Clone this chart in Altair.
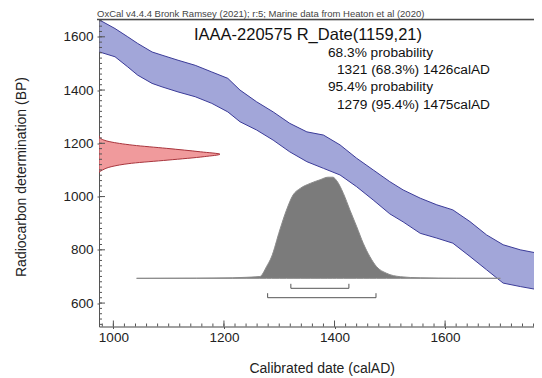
import altair as alt
import pandas as pd

# ---------------- data ----------------
header_text = "OxCal v4.4.4 Bronk Ramsey (2021); r:5; Marine data from Heaton et al (2020)"
title_text = "IAAA-220575 R_Date(1159,21)"
prob_lines = ["68.3% probability", "1321 (68.3%) 1426calAD",
              "95.4% probability", "1279 (95.4%) 1475calAD"]

# calibration curve band (calAD, upper BP, lower BP)
band_year = [975, 1003, 1026, 1044, 1070, 1088, 1117, 1148, 1178, 1207, 1229, 1259,
             1289, 1319, 1350, 1380, 1410, 1440, 1470, 1500, 1524, 1555, 1585, 1614,
             1645, 1675, 1705, 1736, 1768]
band_upper = [1663, 1631, 1600, 1575, 1543, 1531, 1512, 1493, 1468, 1444, 1400, 1356,
              1318, 1275, 1243, 1231, 1194, 1144, 1100, 1056, 1025, 994, 969, 950,
              906, 856, 819, 800, 787]
band_lower = [1543, 1525, 1487, 1456, 1425, 1412, 1393, 1375, 1350, 1318, 1281, 1250,
              1212, 1168, 1131, 1106, 1081, 1037, 987, 935, 905, 862, 844, 825,
              775, 725, 675, 662, 650]

# radiocarbon date distribution (BP, relative density)
r_bp = [1228, 1219, 1206, 1193, 1181, 1168, 1159, 1150, 1137, 1125, 1112, 1100, 1091]
r_p = [0.0, 0.012, 0.09, 0.28, 0.56, 0.84, 1.0, 0.87, 0.57, 0.27, 0.1, 0.03, 0.0]

# calibrated distribution (calAD, relative density)
c_year = [1042, 1150, 1216, 1240, 1265, 1277, 1286, 1301, 1313, 1325, 1338, 1356,
          1374, 1388, 1397, 1404, 1416, 1428, 1440, 1452, 1464, 1476, 1494, 1519,
          1555, 1620, 1700]
c_p = [0.0, 0.002, 0.005, 0.01, 0.018, 0.115, 0.21, 0.475, 0.67, 0.82, 0.885, 0.934,
       0.97, 0.995, 0.995, 0.96, 0.836, 0.67, 0.51, 0.344, 0.213, 0.115, 0.05, 0.016,
       0.005, 0.001, 0.0]

# highest probability ranges
r68 = [1321, 1426]
r95 = [1279, 1475]

x_ticks = [1000, 1200, 1400, 1600]
y_ticks = [600, 800, 1000, 1200, 1400, 1600]
x_minor = list(range(980, 1761, 20))
y_minor = list(range(520, 1661, 20))

# ---------------- layout ----------------
W, H = 435, 307
FONT = "Liberation Sans"
XDOM = [974, 1760.8]
YDOM = [512, 1665]

band_df = pd.DataFrame({"year": band_year, "upper": band_upper, "lower": band_lower})
red_df = pd.DataFrame({"bp": r_bp, "p": r_p})
cal_df = pd.DataFrame({"year": c_year, "p": c_p})
one = pd.DataFrame({"k": [0]})


def xs():
    return alt.Scale(domain=XDOM, nice=False, zero=False)


def ys():
    return alt.Scale(domain=YDOM, nice=False, zero=False)


band = alt.Chart(band_df).mark_area(color="#a2a6d9", opacity=1, clip=True).encode(
    x=alt.X("year:Q", scale=xs(),
            axis=alt.Axis(values=x_ticks, format="d", tickSize=2, tickColor="#555",
                          domainColor="#555", labelFontSize=13.5, labelFont=FONT,
                          labelColor="#222", labelPadding=2, grid=False,
                          title="Calibrated date (calAD)", titleFont=FONT,
                          titleFontSize=14, titleFontWeight="normal", titleColor="#222",
                          titleX=222.7, titleY=41.6, titleAlign="center",
                          titleBaseline="middle")),
    y=alt.Y("upper:Q", scale=ys(),
            axis=alt.Axis(values=y_ticks, format="d", tickSize=2, tickColor="#555",
                          domainColor="#555", labelFontSize=13.5, labelFont=FONT,
                          labelColor="#222", labelPadding=4, grid=False,
                          title="Radiocarbon determination (BP)", titleFont=FONT,
                          titleFontSize=14, titleFontWeight="normal", titleColor="#222",
                          titleX=-78, titleY=157, titleAlign="center",
                          titleBaseline="middle", titleAngle=-90)),
    y2="lower:Q",
)

edge_up = alt.Chart(band_df).mark_line(color="#3b3b98", strokeWidth=1, clip=True).encode(
    x=alt.X("year:Q", scale=xs(), axis=None),
    y=alt.Y("upper:Q", scale=ys(), axis=None),
)
edge_lo = alt.Chart(band_df).mark_line(color="#3b3b98", strokeWidth=1, clip=True).encode(
    x=alt.X("year:Q", scale=xs(), axis=None),
    y=alt.Y("lower:Q", scale=ys(), axis=None),
)

red = alt.Chart(red_df).mark_area(
    orient="horizontal", color="#f09a9c", stroke="#a8343c", strokeWidth=1,
    interpolate="monotone", clip=True
).encode(
    y=alt.Y("bp:Q", scale=ys(), axis=None),
    x=alt.X("p:Q", scale=alt.Scale(domain=[0, 3.595], nice=False, zero=False), axis=None),
)

cal = alt.Chart(cal_df).mark_area(
    color="#7b7b7b", stroke="#8a8a8a", strokeWidth=1, interpolate="monotone", clip=True
).encode(
    x=alt.X("year:Q", scale=xs(), axis=None),
    y=alt.Y("p:Q", scale=alt.Scale(domain=[-0.474, 2.547], nice=False, zero=False),
            axis=None),
)


def bracket(rng, py):
    d = pd.DataFrame({"start": [rng[0]], "end": [rng[1]]})
    h = alt.Chart(d).mark_rule(color="#555", strokeWidth=1).encode(
        x=alt.X("start:Q", scale=xs(), axis=None), x2="end:Q",
        y=alt.value(py))
    e = alt.Chart(d).transform_fold(["start", "end"], as_=["side", "yr"]).mark_rule(
        color="#555", strokeWidth=1).encode(
        x=alt.X("yr:Q", scale=xs(), axis=None), y=alt.value(py), y2=alt.value(py - 4.5))
    return [h, e]


# inward ticks
xminor = alt.Chart(pd.DataFrame({"t": x_minor})).mark_rule(color="#555").encode(
    x=alt.X("t:Q", scale=xs(), axis=None), y=alt.value(H), y2=alt.value(H - 3))
xmajor = alt.Chart(pd.DataFrame({"t": x_ticks})).mark_rule(color="#555").encode(
    x=alt.X("t:Q", scale=xs(), axis=None), y=alt.value(H), y2=alt.value(H - 6))
yminor = alt.Chart(pd.DataFrame({"t": y_minor})).mark_rule(color="#555").encode(
    y=alt.Y("t:Q", scale=ys(), axis=None), x=alt.value(0), x2=alt.value(3))
ymajor = alt.Chart(pd.DataFrame({"t": y_ticks})).mark_rule(color="#555").encode(
    y=alt.Y("t:Q", scale=ys(), axis=None), x=alt.value(0), x2=alt.value(6))

top_line = alt.Chart(one).mark_rule(color="#4a4a4a", strokeWidth=1.6).encode(
    x=alt.value(-2), x2=alt.value(W), y=alt.value(0))

header = alt.Chart(one).mark_text(
    text=header_text, font=FONT, fontSize=9.5, color="#444", align="left",
    baseline="alphabetic").encode(x=alt.value(-2), y=alt.value(-2.5))
title = alt.Chart(one).mark_text(
    text=title_text, font=FONT, fontSize=16.5, color="#111", align="center",
    baseline="alphabetic").encode(x=alt.value(209), y=alt.value(20.5))

text_layers = []
text_x = [229, 238, 229, 238]
text_y = [33, 50, 67.5, 85]
for s, tx, ty in zip(prob_lines, text_x, text_y):
    text_layers.append(alt.Chart(one).mark_text(
        text=s, font=FONT, fontSize=13.7, color="#111", align="left",
        baseline="middle").encode(x=alt.value(tx), y=alt.value(ty)))

layers = [band, edge_up, edge_lo, red, cal] + bracket(r68, 268.8) + bracket(r95, 278.2) + \
    [xminor, xmajor, yminor, ymajor, top_line, header, title] + text_layers

chart = alt.layer(*layers).resolve_scale(
    x="independent", y="independent"
).properties(
    width=W, height=H,
    autosize=alt.AutoSizeParams(type="none"),
    padding={"left": 91, "top": 11.5, "right": 0, "bottom": 50},
).configure_view(stroke=None).configure(background="white")

chart.save("out.html", embed_options={"renderer": "svg", "actions": False})
